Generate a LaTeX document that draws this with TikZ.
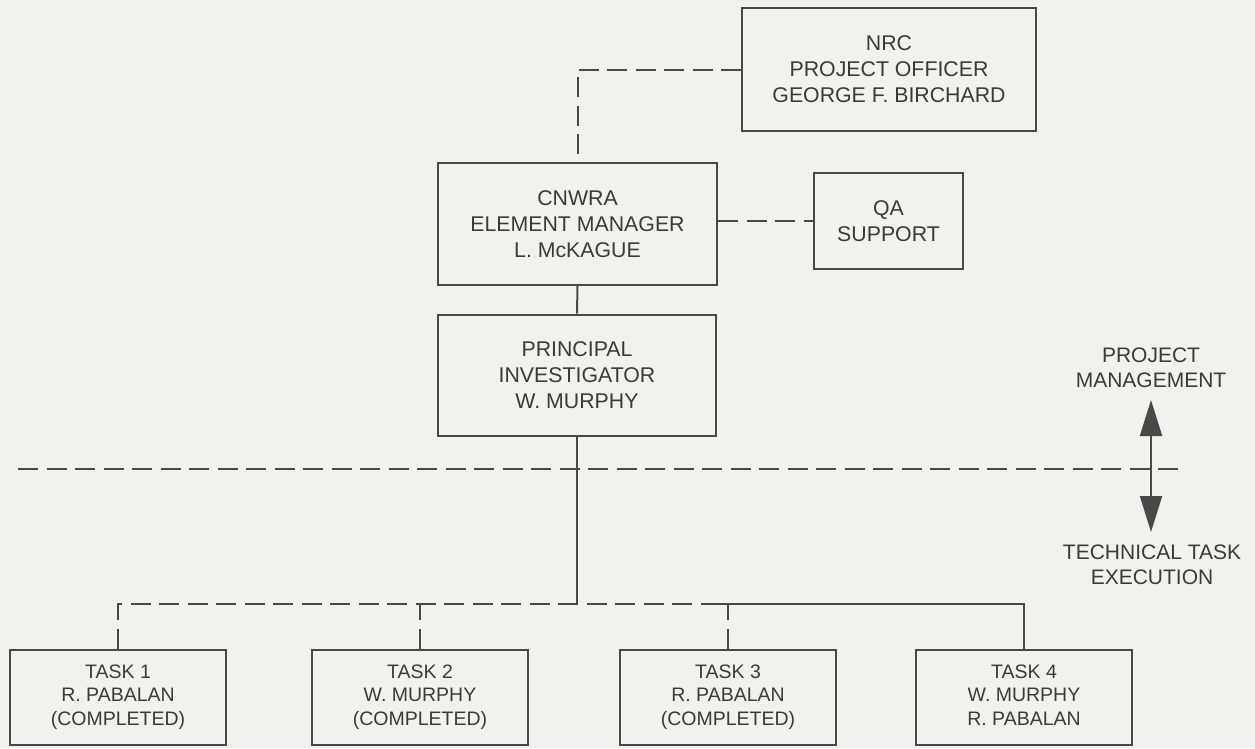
\documentclass[tikz,border=0pt]{standalone}
\usepackage{fontspec}
\setmainfont{Liberation Sans}
\usetikzlibrary{arrows.meta}
\definecolor{paper}{RGB}{241,241,240}
\definecolor{ink}{RGB}{72,72,72}
\definecolor{txt}{RGB}{58,58,58}
\begin{document}
\begin{tikzpicture}[x=1pt,y=-1pt,
  bigbox/.style={draw=ink,line width=2pt,text=txt,align=center,inner sep=0pt,
    font=\fontsize{21.3}{26}\selectfont},
  taskbox/.style={draw=ink,line width=2pt,text=txt,align=center,inner sep=0pt,
    minimum width=216pt,minimum height=95pt,font=\fontsize{19.5}{23.7}\selectfont},
  sidelabel/.style={text=txt,align=center,inner sep=0pt,font=\fontsize{21}{25.5}\selectfont},
  conn/.style={draw=ink,line width=2pt},
  dashline/.style={draw=ink,line width=2pt,dash pattern=on 20pt off 8.5pt},
  bigtip/.tip={Triangle[length=36pt,width=22pt]}]
\fill[paper] (0,0) rectangle (1255,748);
\useasboundingbox (0,0) rectangle (1255,748);

\node[bigbox,minimum width=294pt,minimum height=123pt] (nrc) at (889,69.5)
  {NRC\\PROJECT OFFICER\\GEORGE F. BIRCHARD};
\node[bigbox,minimum width=279pt,minimum height=122pt] (cnwra) at (577.5,224)
  {CNWRA\\ELEMENT MANAGER\\L. McKAGUE};
\node[bigbox,minimum width=149pt,minimum height=96pt] (qa) at (888.5,221)
  {QA\\SUPPORT};
\node[bigbox,minimum width=278pt,minimum height=121pt] (pi) at (577,375)
  {PRINCIPAL\\INVESTIGATOR\\W. MURPHY};

\node[taskbox] (t1) at (118,697) {TASK 1\\R. PABALAN\\(COMPLETED)};
\node[taskbox] (t2) at (420,697) {TASK 2\\W. MURPHY\\(COMPLETED)};
\node[taskbox] (t3) at (728,697) {TASK 3\\R. PABALAN\\(COMPLETED)};
\node[taskbox] (t4) at (1024,697) {TASK 4\\W. MURPHY\\R. PABALAN\vphantom{()}};

\node[sidelabel] (pm) at (1151,368) {PROJECT\\MANAGEMENT};
\node[sidelabel] (tte) at (1152,565) {TECHNICAL TASK\\EXECUTION};

\coordinate (divL) at (18,469);
\coordinate (divR) at (1178,469);
\coordinate (arrTop) at (1151,400);
\coordinate (arrBot) at (1151,532);
\coordinate (split) at (707,604);

\draw[dashline] (divL) -- (divR);
\draw[dashline] (nrc.west) -| (cnwra.north);
\draw[dashline] (cnwra.east |- qa.west) -- (qa.west);
\draw[conn] (cnwra.south) -- (pi.north);
\draw[conn] (pi.south) -- (pi.south |- split);
\draw[dashline] (t1.north) |- (split);
\draw[dashline] (t2.north) -- (t2.north |- split);
\draw[dashline] (t3.north) -- (t3.north |- split);
\draw[conn] (split) -| (t4.north);
\draw[conn,fill=ink,{bigtip}-{bigtip}] (arrTop) -- (arrBot);
\end{tikzpicture}
\end{document}
